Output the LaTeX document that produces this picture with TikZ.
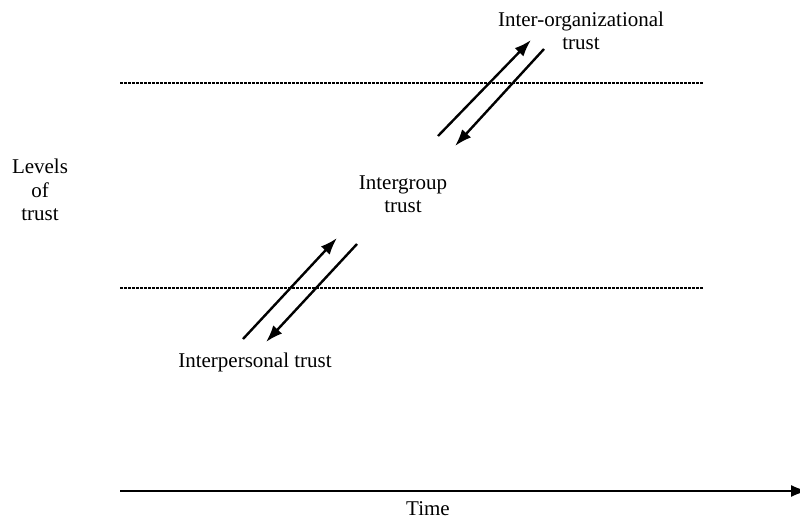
\documentclass[tikz,border=0pt]{standalone}
\usepackage{fontspec}
\setmainfont{Liberation Serif}
\usetikzlibrary{arrows.meta}

\tikzset{
  lbl/.style={align=center, inner sep=0pt, font=\fontsize{21}{23.5}\selectfont},
  level/.style={line width=1.2pt, dash pattern=on 3pt off 1pt},
  move/.style={line width=2.4pt, -{Latex[length=17pt,width=12pt]}}
}

\begin{document}
\begin{tikzpicture}[x=1pt,y=-1pt]
    \useasboundingbox (0,0) rectangle (800,519);

    % levels
    \draw[level] (120,83) -- (703,83);
    \draw[level] (120,288) -- (703,288);

    % labels
    \node[lbl] (levels) at (40,190) {Levels\\of\\trust};
    \node[lbl] (interorg) at (581,31) {Inter-organizational\\trust};
    \node[lbl] (intergroup) at (403,194) {Intergroup\\trust};
    \node[lbl] (interpers) at (255,362) {Interpersonal trust};

    % arrow ends
    \coordinate (a1) at (243,339);
    \coordinate (a2) at (337,238);
    \coordinate (b1) at (357,244);
    \coordinate (b2) at (266,342);
    \coordinate (c1) at (438,136);
    \coordinate (c2) at (531,40);
    \coordinate (d1) at (544,49);
    \coordinate (d2) at (455,146);

    \draw[move] (a1) -- (a2);
    \draw[move] (b1) -- (b2);
    \draw[move] (c1) -- (c2);
    \draw[move] (d1) -- (d2);

    % time axis
    \coordinate (t0) at (120,491);
    \coordinate (t1) at (808,491);
    \draw[move] (t0) -- (t1);
    \node[lbl] (time) at (428,509) {Time};
\end{tikzpicture}
\end{document}
